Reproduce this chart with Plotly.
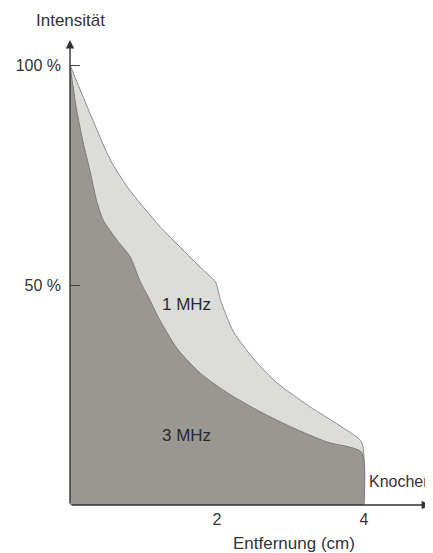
import plotly.graph_objects as go

# Distance (cm) and intensity (%)
x_1mhz = [0, 0.31, 0.55, 0.78, 1.0, 1.23, 1.5, 1.77, 1.98, 2.05, 2.22, 2.5, 2.82, 3.27, 3.72, 3.97, 4.0]
y_1mhz = [100, 87.5, 78.4, 72.3, 67.7, 63.2, 58.6, 54.1, 50.7, 46.5, 39.5, 33.2, 27.7, 22.3, 17.5, 14.3, 0]

x_3mhz = [0, 0.09, 0.18, 0.27, 0.36, 0.45, 0.64, 0.82, 0.95, 1.09, 1.23, 1.46, 1.77, 2.14, 2.6, 3.04, 3.5, 3.97, 4.0]
y_3mhz = [100, 89.8, 82.3, 76.1, 69.3, 64.8, 60.2, 56.4, 51.0, 46.5, 41.8, 35.5, 30.0, 25.5, 21.1, 17.5, 14.3, 12.0, 0]

y_tick_vals = [50, 100]
y_tick_text = ["50 %", "100 %"]
x_tick_vals = [2, 4]
x_tick_text = ["2", "4"]

labels = ["1 MHz", "3 MHz"]
label_x = [1.58, 1.59]
label_y = [45.5, 15.7]

FONT = "Liberation Sans, Arial, sans-serif"
TXT = "#333333"

fig = go.Figure()
fig.add_trace(go.Scatter(x=x_1mhz, y=y_1mhz, mode="lines", fill="tozeroy",
                         fillcolor="#dcdcda", line=dict(color="#8c8c8a", width=1, shape="spline", smoothing=0.6),
                         hoverinfo="skip", showlegend=False))
fig.add_trace(go.Scatter(x=x_3mhz, y=y_3mhz, mode="lines", fill="tozeroy",
                         fillcolor="#9a9793", line=dict(color="#7d7a77", width=1, shape="spline", smoothing=0.6),
                         hoverinfo="skip", showlegend=False))

for t, lx, ly in zip(labels, label_x, label_y):
    fig.add_annotation(x=lx, y=ly, text=t, showarrow=False,
                       font=dict(family=FONT, size=17, color="#2a2a2a"))

# axis arrows
fig.add_annotation(x=4.9, y=0, ax=0, ay=0, axref="x", ayref="y", xref="x", yref="y",
                   text="", showarrow=True, arrowhead=2, arrowsize=1.2, arrowwidth=1.4,
                   arrowcolor="#333")
fig.add_annotation(x=0, y=105.7, ax=0, ay=0, axref="x", ayref="y", xref="x", yref="y",
                   text="", showarrow=True, arrowhead=2, arrowsize=1.2, arrowwidth=1.4,
                   arrowcolor="#333")

fig.add_annotation(x=0, y=1, xref="x", yref="paper", text="Intensität", showarrow=False,
                   xanchor="center", yanchor="middle", yshift=20,
                   font=dict(family=FONT, size=17, color=TXT))
fig.add_annotation(x=3.05, y=0, xref="x", yref="y", text="Entfernung (cm)", showarrow=False,
                   yanchor="middle", yshift=-38, font=dict(family=FONT, size=17, color=TXT))
fig.add_annotation(x=4.0, y=0, xref="x", yref="y", text="Knochen", showarrow=False,
                   xanchor="left", yanchor="middle", xshift=3, yshift=24,
                   font=dict(family=FONT, size=16, color=TXT))

fig.update_layout(
    width=425, height=545,
    margin=dict(l=62, r=3, t=32, b=48),
    paper_bgcolor="white", plot_bgcolor="white",
    xaxis=dict(range=[0, 4.9], showgrid=False, zeroline=False, showline=False,
               tickvals=x_tick_vals, ticktext=x_tick_text, ticks="", ticklabelstandoff=3,
               tickfont=dict(family=FONT, size=16, color=TXT), fixedrange=True),
    yaxis=dict(range=[0, 105.7], showgrid=False, zeroline=False, showline=False,
               tickvals=y_tick_vals, ticktext=y_tick_text, ticks="inside", ticklen=10,
               tickcolor="#444", tickwidth=1.3, ticklabelstandoff=8,
               tickfont=dict(family=FONT, size=16, color=TXT), fixedrange=True),
    font=dict(family=FONT),
)

fig.write_html("out.html")
